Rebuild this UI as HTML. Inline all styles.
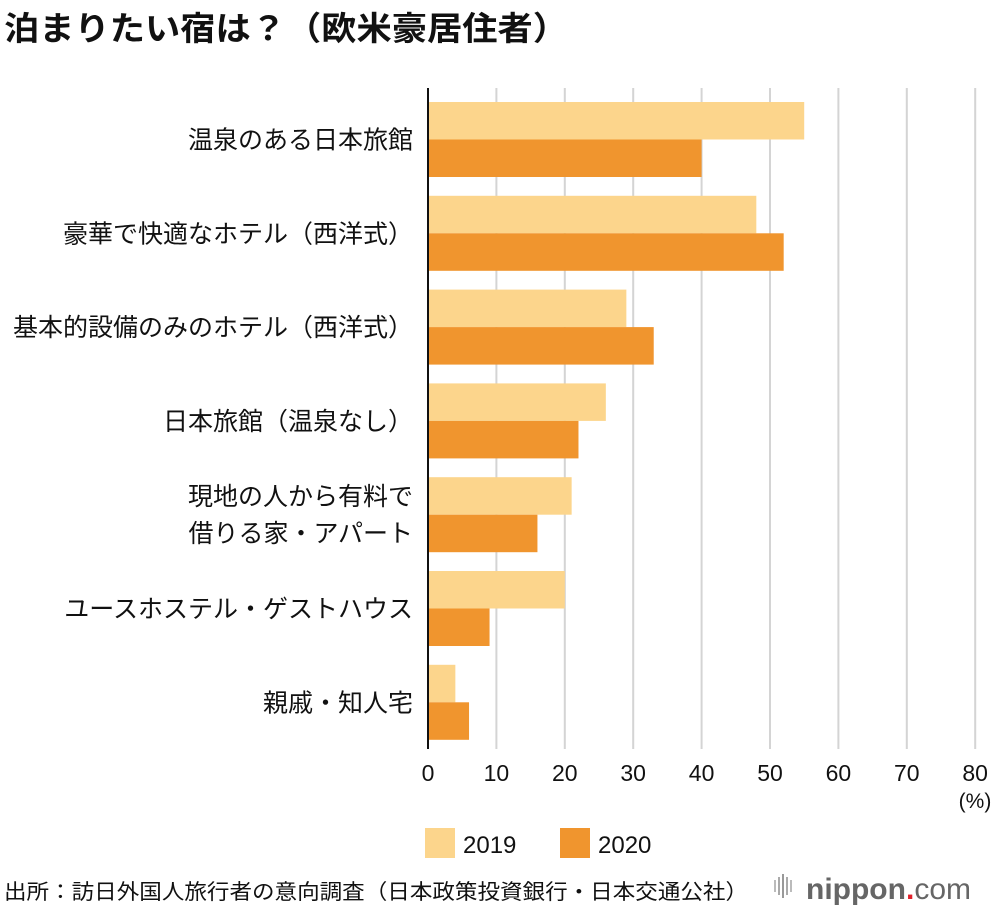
<!DOCTYPE html>
<html><head><meta charset="utf-8"><style>
body{margin:0;background:#fff;font-family:"Liberation Sans","Noto Sans CJK JP",sans-serif;}
svg text{font-family:"Liberation Sans","Noto Sans CJK JP",sans-serif;}
</style></head><body>
<svg id="c" width="1000" height="912" xmlns="http://www.w3.org/2000/svg">
<text x="4" y="40" font-size="33" font-weight="bold" fill="#111" textLength="564" lengthAdjust="spacingAndGlyphs">泊まりたい宿は？（欧米豪居住者）</text>
<g id="grid"></g><g id="bars"></g><g id="labels"></g><g id="ticks"></g>
<text x="975" y="808" font-size="21" text-anchor="middle" fill="#111">(%)</text>
<rect x="425" y="828" width="30" height="30" fill="#fcd58c"/>
<text x="463" y="853" font-size="24" fill="#111">2019</text>
<rect x="560" y="828" width="30" height="30" fill="#f0952e"/>
<text x="598" y="853" font-size="24" fill="#111">2020</text>
<text x="4" y="899" font-size="21" fill="#111" textLength="744" lengthAdjust="spacingAndGlyphs">出所：訪日外国人旅行者の意向調査（日本政策投資銀行・日本交通公社）</text>
<g>
<rect x="774" y="880" width="2" height="12" fill="#bbb"/><rect x="778" y="877" width="2" height="18" fill="#aaa"/><rect x="782" y="874" width="2" height="24" fill="#999"/><rect x="786" y="877" width="2" height="18" fill="#aaa"/><rect x="790" y="880" width="2" height="12" fill="#bbb"/>
<text x="806" y="899" font-size="30" fill="#666" font-weight="bold">nippon<tspan fill="#e0202a">.</tspan><tspan font-weight="normal">com</tspan></text>
</g>
</svg>
<script>
const categories=[["温泉のある日本旅館"],["豪華で快適なホテル（西洋式）"],["基本的設備のみのホテル（西洋式）"],["日本旅館（温泉なし）"],["現地の人から有料で","借りる家・アパート"],["ユースホステル・ゲストハウス"],["親戚・知人宅"]];
const values2019=[55,48,29,26,21,20,4];
const values2020=[40,52,33,22,16,9,6];
const ticks=[0,10,20,30,40,50,60,70,80];
const NS="http://www.w3.org/2000/svg";
const x0=428,pxPer=6.84,barTop=102,pitch=93.8,bh=37.5,axisTop=88,axisBot=749;
const X=v=>x0+v*pxPer;
function mk(t,a,p){const e=document.createElementNS(NS,t);for(const k in a)e.setAttribute(k,a[k]);document.getElementById(p).appendChild(e);return e;}
ticks.forEach((t,i)=>{
 if(t>0){const l=mk('line',{x1:X(t),x2:X(t),y1:axisTop,y2:axisBot,stroke:'#d4d4d4','stroke-width':2},'grid');
 
 }
 const tx=mk('text',{x:X(t),y:781,'font-size':23,'text-anchor':'middle',fill:'#111'},'ticks');tx.textContent=t;
 
 
});
categories.forEach((c,i)=>{
 const y=barTop+i*pitch;
 const a=mk('rect',{x:x0,y:y,width:X(values2019[i])-x0,height:bh,fill:'#fcd58c'},'bars');
 
 
 const b=mk('rect',{x:x0,y:y+bh,width:X(values2020[i])-x0,height:bh,fill:'#f0952e'},'bars');
 
 
 const cy=y+bh;
 c.forEach((line,j)=>{
  const ty=cy+9+(j-(c.length-1)/2)*37;
  const t=mk('text',{x:413,y:ty,'font-size':25,'text-anchor':'end',fill:'#111'},'labels');t.textContent=line;
  
  
 });
});
const ax=mk('line',{x1:x0,x2:x0,y1:axisTop,y2:axisBot,stroke:'#111','stroke-width':2},'ticks');


</script>
</body></html>
